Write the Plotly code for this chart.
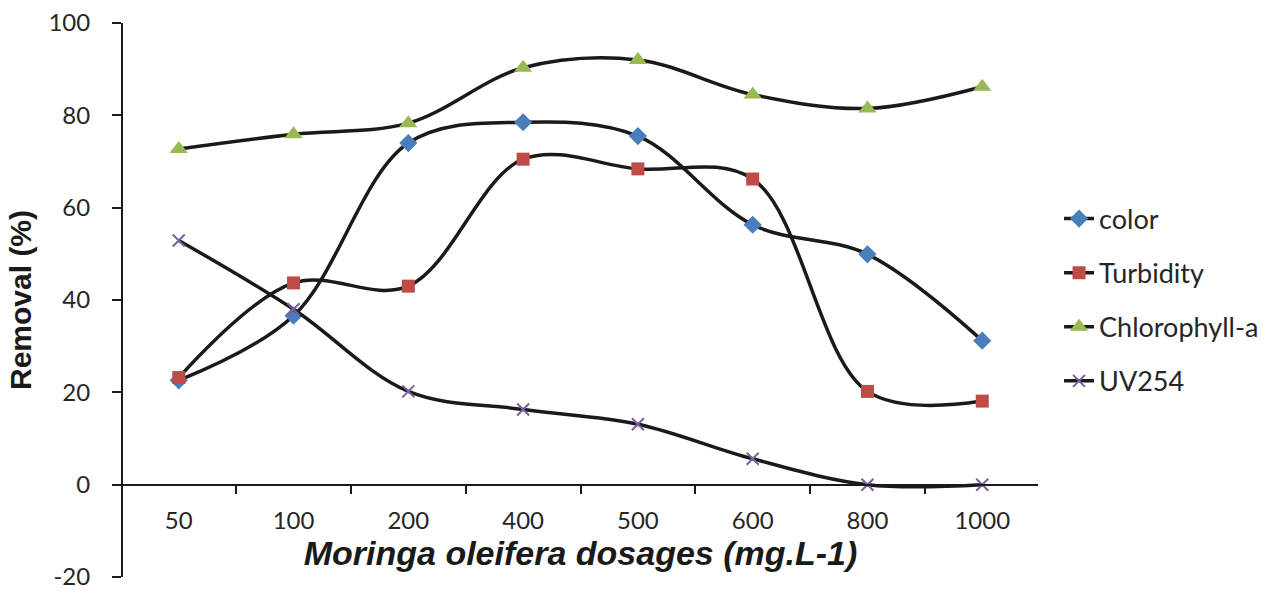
import plotly.graph_objects as go

dosages = ["50", "100", "200", "400", "500", "600", "800", "1000"]
color_vals = [22.6, 36.6, 74.0, 78.5, 75.5, 56.3, 49.9, 31.2]
turbidity_vals = [23.2, 43.7, 43.0, 70.5, 68.4, 66.2, 20.2, 18.1]
chlorophyll_vals = [72.7, 75.9, 78.3, 90.3, 92.0, 84.5, 81.5, 86.2]
uv254_vals = [52.9, 38.0, 20.2, 16.3, 13.1, 5.6, 0.0, 0.0]
y_tickvals = [-20, 0, 20, 40, 60, 80, 100]
y_ticktext = ["-20", "0", "20", "40", "60", "80", "100"]

series = [
    ("color", color_vals, dict(symbol="diamond", size=14, color="#4a7ebb")),
    ("Turbidity", turbidity_vals, dict(symbol="square", size=13, color="#be4b48")),
    ("Chlorophyll-a", chlorophyll_vals, dict(symbol="triangle-up", size=16, color="#98b954")),
    ("UV254", uv254_vals, dict(symbol="x-thin", size=12, color="#7d60a0",
                               line=dict(width=2, color="#7d60a0"))),
]

fig = go.Figure()
for i, (name, vals, mk) in enumerate(series):
    fig.add_trace(go.Scatter(
        x=dosages, y=vals, name=name, mode="lines+markers",
        line=dict(color="#1a1a1a", width=3.5, shape="spline", smoothing=1.0),
        marker=mk, legendgroup=f"g{i}",
    ))

fig.update_layout(
    width=1267, height=593,
    paper_bgcolor="white", plot_bgcolor="white",
    margin=dict(l=123, r=229, t=23, b=16, autoexpand=False),
    font=dict(family="Lato, Open Sans, sans-serif", color="#262626"),
    showlegend=True,
    legend=dict(x=1.023, xanchor="left", y=0.5, yanchor="middle",
                font=dict(size=27, family="Lato, Open Sans, sans-serif"),
                tracegroupgap=16, bgcolor="rgba(0,0,0,0)"),
    xaxis=dict(
        type="category", anchor="free", position=20/120,
        showline=True, linecolor="#1a1a1a", linewidth=2,
        ticks="outside", tickson="boundaries", ticklen=8, tickwidth=2, tickcolor="#1a1a1a",
        tickfont=dict(size=24), ticklabelstandoff=15,
        showgrid=False, zeroline=False, automargin=False,
        title=dict(text="<b><i>Moringa oleifera dosages (mg.L-1)</i></b>",
                   font=dict(size=34, family="Liberation Sans, Arial, sans-serif", color="#1a1a1a"),
                   standoff=6),
    ),
    yaxis=dict(
        range=[-20, 100], tickmode="array", tickvals=y_tickvals, ticktext=y_ticktext,
        showline=True, linecolor="#1a1a1a", linewidth=2,
        ticks="outside", ticklen=9, tickwidth=2, tickcolor="#1a1a1a",
        tickfont=dict(size=24), ticklabelstandoff=17, ticklabeloverflow="allow",
        showgrid=False, zeroline=False, automargin=False,
        title=dict(text="<b>Removal (%)</b>",
                   font=dict(size=30, family="Liberation Sans, Arial, sans-serif", color="#1a1a1a"),
                   standoff=8),
    ),
)

fig.write_html("out.html",
               config={"displayModeBar": False},
               post_script="document.body.style.margin='0';document.body.style.overflow='hidden';")
